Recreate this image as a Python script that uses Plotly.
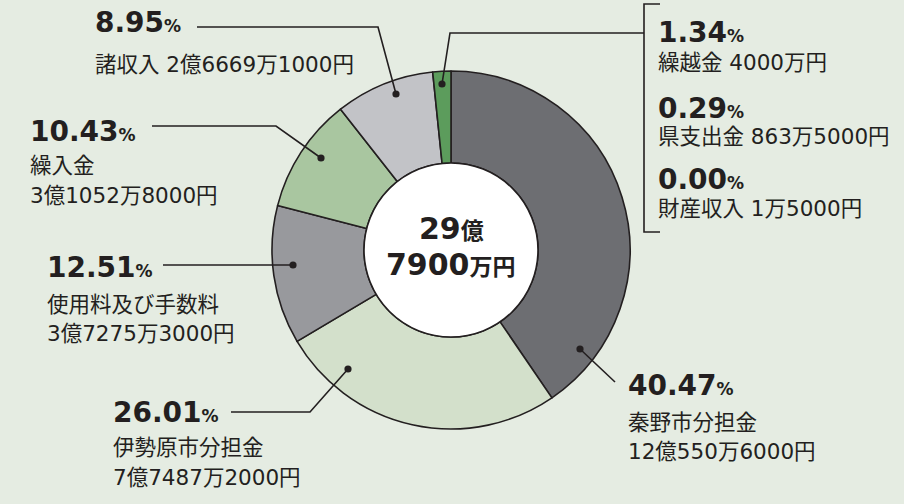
import plotly.graph_objects as go

# ---- data ----
categories = ["秦野市分担金", "伊勢原市分担金", "使用料及び手数料", "繰入金", "諸収入", "繰越金", "県支出金", "財産収入"]
amounts_yen = [1205506000, 774872000, 372753000, 310528000, 266691000, 40000000, 8635000, 15000]
percents = [40.47, 26.01, 12.51, 10.43, 8.95, 1.34, 0.29, 0.00]
amount_labels = ["12億550万6000円", "7億7487万2000円", "3億7275万3000円", "3億1052万8000円",
                 "2億6669万1000円", "4000万円", "863万5000円", "1万5000円"]
total_label = ["29", "億", "7900", "万円"]

# small items (繰越金, 県支出金, 財産収入) share one green wedge in the chart
pie_labels = categories[:5] + ["繰越金・県支出金・財産収入"]
pie_values = amounts_yen[:5] + [sum(amounts_yen[5:])]

# ---- styles / layout ----
W, H = 904, 504
BG = "#e5ece2"
INK = "#231f20"
slice_colors = ["#6d6e72", "#d3e0cb", "#98999d", "#a9c6a0", "#c2c3c7", "#5c9c5c"]
CX, CY, R, RIN = 451, 250, 179, 87
NUM_FONT = "DejaVu Sans, Noto Sans CJK JP, sans-serif"


def px(x):
    return x / W


def py(y):
    return 1 - y / H


fig = go.Figure()
fig.add_trace(go.Pie(
    labels=pie_labels, values=pie_values, sort=False, direction="clockwise", rotation=0,
    hole=RIN / R, textinfo="none", hoverinfo="label+percent",
    marker=dict(colors=slice_colors, line=dict(color=INK, width=1.6)),
    domain=dict(x=[px(CX - R), px(CX + R)], y=[py(CY + R), py(CY - R)]),
    showlegend=False,
))

shapes = []
annotations = []

# centre white disc
shapes.append(dict(type="circle", xref="paper", yref="paper",
                   x0=px(CX - RIN), x1=px(CX + RIN), y0=py(CY + RIN), y1=py(CY - RIN),
                   fillcolor="white", line=dict(color=INK, width=1.6), layer="above"))


def path(points):
    d = "M " + " L ".join(f"{px(x)},{py(y)}" for x, y in points)
    return dict(type="path", xref="paper", yref="paper", path=d,
                line=dict(color=INK, width=1.6), layer="above")


def dot(x, y, r=3.6):
    return dict(type="circle", xref="paper", yref="paper",
                x0=px(x - r), x1=px(x + r), y0=py(y + r), y1=py(y - r),
                fillcolor=INK, line=dict(color=INK, width=0), layer="above")


# leader line geometry (pixel positions): dot -> elbow -> end
leaders = [
    [(580, 349), (615, 382)],                 # 40.47
    [(348, 369), (310, 412), (231, 412)],     # 26.01
    [(293, 265), (163, 265)],                 # 12.51
    [(321, 158), (276, 126), (152, 126)],     # 10.43
    [(396, 94), (378, 27), (197, 27)],        # 8.95
    [(442, 84), (450, 33), (644, 33)],        # green group
]
for pts in leaders:
    shapes.append(path(pts))
    shapes.append(dot(*pts[0]))
# bracket for small items
shapes.append(path([(660, 4), (644, 4), (644, 232), (660, 232)]))


def pct_text(p):
    return f"<b>{p:.2f}</b><span style='font-size:17px'><b>%</b></span>"


def add_text(x, y, text, size, bold=False, anchor="left"):
    annotations.append(dict(
        x=px(x), y=py(y), xref="paper", yref="paper", text=text, showarrow=False,
        xanchor=anchor, yanchor="middle",
        font=dict(family=NUM_FONT, size=size, color=INK, weight="bold" if bold else "normal"),
    ))


# label blocks: (index, x, y of percent, following lines, their y)
blocks = [
    (0, 628, 385, [categories[0], amount_labels[0]], [422, 451]),
    (1, 113, 412, [categories[1], amount_labels[1]], [447, 477]),
    (2, 47, 267, [categories[2], amount_labels[2]], [304, 333]),
    (3, 30, 132, [categories[3], amount_labels[3]], [166, 196]),
    (4, 95, 23, [categories[4] + " " + amount_labels[4]], [64]),
    (5, 658, 33, [categories[5] + " " + amount_labels[5]], [62]),
    (6, 658, 108, [categories[6] + " " + amount_labels[6]], [137]),
    (7, 658, 179, [categories[7] + " " + amount_labels[7]], [208]),
]
for i, x, yp, lines, ys in blocks:
    add_text(x - 2, yp, pct_text(percents[i]), 28, bold=True)
    for t, yy in zip(lines, ys):
        add_text(x - 2, yy, t, 21.5)

# centre total
add_text(CX, 229, f"<b>{total_label[0]}</b><span style='font-size:23px'><b>{total_label[1]}</b></span>", 30, anchor="center")
add_text(CX, 264, f"<b>{total_label[2]}</b><span style='font-size:23px'><b>{total_label[3]}</b></span>", 30, anchor="center")

fig.update_layout(
    width=W, height=H, margin=dict(l=0, r=0, t=0, b=0),
    paper_bgcolor=BG, plot_bgcolor=BG,
    shapes=shapes, annotations=annotations,
)
fig.write_html("out.html", config={"displayModeBar": False},
               post_script="document.body.style.margin='0';document.body.style.overflow='hidden';")
